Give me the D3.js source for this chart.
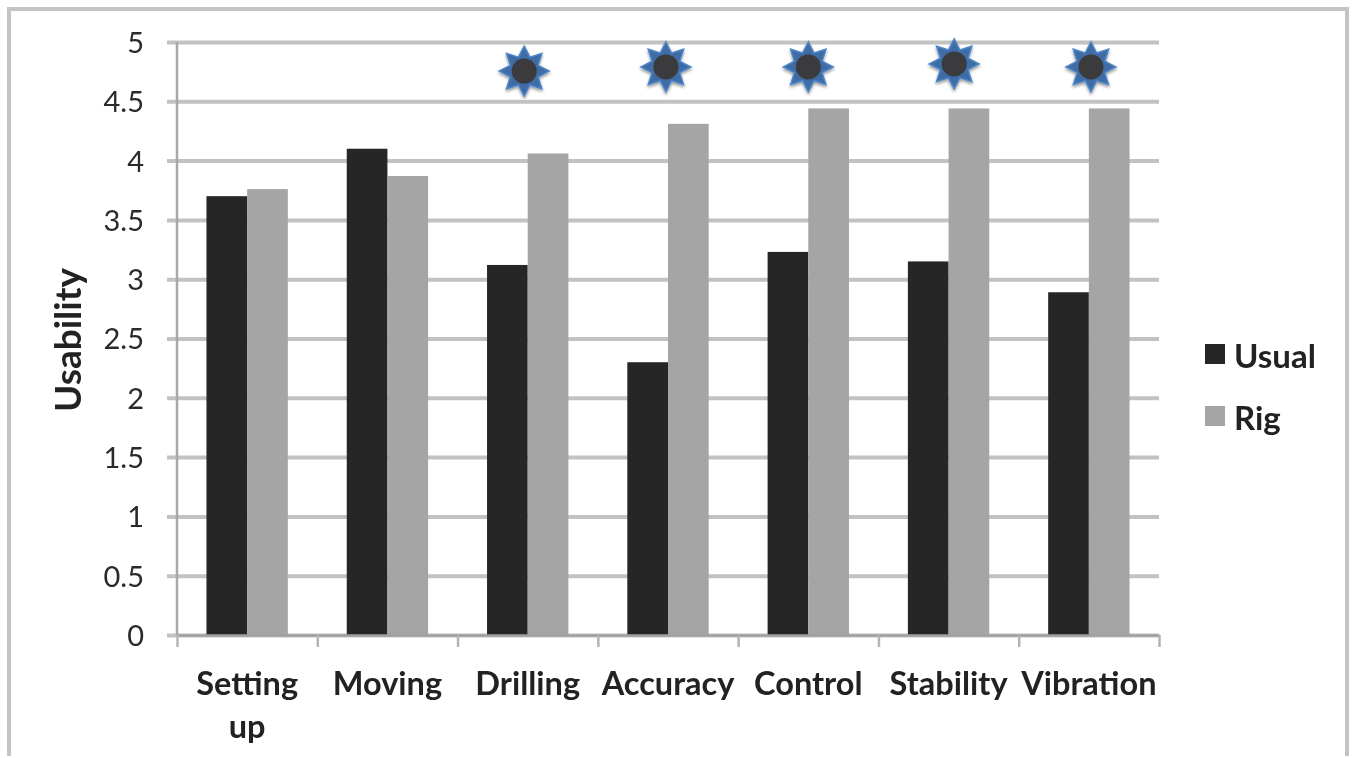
<!DOCTYPE html>
<html>
<head>
<meta charset="utf-8">
<script src="https://cdn.jsdelivr.net/npm/d3@7"></script>
<style>
html, body { margin: 0; padding: 0; background: #fff; }
svg { display: block; }
text { font-family: Lato, "Open Sans", sans-serif; fill: #222; }
</style>
</head>
<body>
<div id="chart"></div>
<script>
var categories = ['Setting up', 'Moving', 'Drilling', 'Accuracy', 'Control', 'Stability', 'Vibration'];
var usual = [3.70, 4.10, 3.12, 2.30, 3.23, 3.15, 2.89];
var rig = [3.76, 3.87, 4.06, 4.31, 4.44, 4.44, 4.44];
var seriesNames = ['Usual', 'Rig'];
var seriesColors = ['#272727', '#a5a5a5'];
var yTicks = [0, 0.5, 1, 1.5, 2, 2.5, 3, 3.5, 4, 4.5, 5];

// significance markers: category, height on the value axis, nudge in category units
var starCats = ['Drilling', 'Accuracy', 'Control', 'Stability', 'Vibration'];
var starValues = [4.755, 4.79, 4.79, 4.815, 4.79];
var starNudge = [-0.025, -0.015, 0, 0.04, 0.015];

var width = 1352, height = 758;
var plot = { left: 177, right: 1159, top: 42, bottom: 635 };

var svg = d3.select('#chart').append('svg')
    .attr('width', width)
    .attr('height', height);

var defs = svg.append('defs');
defs.append('filter').attr('id', 'soft')
    .attr('x', '-5%').attr('y', '-5%').attr('width', '110%').attr('height', '110%')
    .append('feGaussianBlur').attr('stdDeviation', 0.7);
var starShadow = defs.append('filter').attr('id', 'starShadow')
    .attr('x', '-30%').attr('y', '-30%').attr('width', '160%').attr('height', '160%');
starShadow.append('feDropShadow')
    .attr('dx', 0).attr('dy', 2).attr('stdDeviation', 1.6)
    .attr('flood-color', '#000').attr('flood-opacity', 0.4);

var g = svg.append('g').attr('filter', 'url(#soft)');

// outer frame
g.append('path')
    .attr('d', d3.line()([[9, 756], [9, 9], [1347, 9], [1347, 756]]))
    .attr('fill', 'none')
    .attr('stroke', '#c4c4c4')
    .attr('stroke-width', 4);

var x = d3.scaleBand()
    .domain(categories)
    .range([plot.left, plot.right])
    .paddingInner(0.42)
    .paddingOuter(0.21);

var xSeries = d3.scaleBand()
    .domain(seriesNames)
    .range([0, x.bandwidth()]);

var xEdges = d3.scaleLinear()
    .domain([0, categories.length])
    .range([plot.left, plot.right]);

var y = d3.scaleLinear()
    .domain([0, 5])
    .range([plot.bottom, plot.top]);

// value axis with gridlines
var yAxis = g.append('g')
    .attr('transform', 'translate(' + plot.left + ',0)')
    .call(d3.axisLeft(y)
        .tickValues(yTicks)
        .tickFormat(d3.format('~g'))
        .tickSize(0));

yAxis.select('.domain').remove();
yAxis.selectAll('.tick line')
    .attr('x1', -10)
    .attr('x2', plot.right - plot.left)
    .attr('stroke', '#c2c2c2')
    .attr('stroke-width', 4);
yAxis.selectAll('.tick text')
    .attr('x', -33)
    .attr('dy', '0.36em')
    .attr('text-anchor', 'end')
    .style('font-size', '29px')
    .style('font-family', 'Lato, sans-serif')
    .style('fill', '#2a2a2a');

g.append('line')
    .attr('x1', plot.left).attr('x2', plot.left)
    .attr('y1', plot.top).attr('y2', plot.bottom)
    .attr('stroke', '#a8a8a8')
    .attr('stroke-width', 2.5);

// bars
var groups = g.selectAll('.cat')
    .data(categories)
    .enter().append('g')
    .attr('class', 'cat')
    .attr('transform', function(d) { return 'translate(' + x(d) + ',0)'; });

seriesNames.forEach(function(name, s) {
    var vals = s === 0 ? usual : rig;
    groups.append('rect')
        .attr('x', xSeries(name))
        .attr('y', function(d, i) { return y(vals[i]); })
        .attr('width', xSeries.bandwidth())
        .attr('height', function(d, i) { return y(0) - y(vals[i]); })
        .attr('fill', seriesColors[s]);
});

// category axis, ticks sit between the categories
var xAxis = g.append('g')
    .attr('transform', 'translate(0,' + plot.bottom + ')')
    .call(d3.axisBottom(xEdges)
        .tickValues(d3.range(categories.length + 1))
        .tickFormat('')
        .tickSize(12)
        .tickSizeOuter(0));
xAxis.select('.domain').attr('stroke', '#a0a0a0').attr('stroke-width', 2.5);
xAxis.selectAll('.tick line').attr('stroke', '#b4b4b4').attr('stroke-width', 2.5);

// category labels
g.selectAll('.cat-label')
    .data(categories)
    .enter().append('text')
    .attr('class', 'cat-label')
    .attr('x', function(d) { return x(d) + x.bandwidth() / 2; })
    .attr('y', 695)
    .attr('text-anchor', 'middle')
    .style('font-size', '32.5px')
    .style('font-weight', 700)
    .each(function(d) {
        var words = d === 'Setting up' ? d.split(' ') : [d];
        var self = d3.select(this);
        words.forEach(function(w, i) {
            self.append('tspan')
                .attr('x', self.attr('x'))
                .attr('dy', i === 0 ? 0 : 43)
                .text(w);
        });
    });

// y title
g.append('text')
    .attr('transform', 'translate(81,340) rotate(-90)')
    .attr('text-anchor', 'middle')
    .style('font-size', '37px')
    .style('font-weight', 700)
    .text('Usability');

// legend
var legendY = d3.scalePoint().domain(seriesNames).range([356, 418]);
var legend = g.selectAll('.legend')
    .data(seriesNames)
    .enter().append('g')
    .attr('class', 'legend')
    .attr('transform', function(d) { return 'translate(1205,' + legendY(d) + ')'; });
legend.append('rect')
    .attr('x', 0).attr('y', -12)
    .attr('width', 20).attr('height', 20)
    .attr('fill', function(d, i) { return seriesColors[i]; });
legend.append('text')
    .attr('x', 29).attr('y', 12)
    .style('font-size', '33px')
    .style('font-weight', 700)
    .text(function(d) { return d; });

// sun shaped markers
var spikes = d3.range(16).map(function(i) {
    var r = i % 2 === 0 ? 25 : 15;
    var a = i * Math.PI / 8;
    return [Math.sin(a) * r, -Math.cos(a) * r];
});
var stars = svg.append('g').attr('filter', 'url(#soft)').selectAll('.star')
    .data(starCats)
    .enter().append('g')
    .attr('class', 'star')
    .attr('transform', function(d, i) {
        var cx = x(d) + x.bandwidth() / 2 + starNudge[i] * x.step();
        return 'translate(' + cx + ',' + y(starValues[i]) + ')';
    });
stars.append('path')
    .attr('d', d3.line().curve(d3.curveLinearClosed)(spikes))
    .attr('fill', '#3f6ca6')
    .attr('stroke', '#4d86c8')
    .attr('stroke-width', 1.5)
    .attr('filter', 'url(#starShadow)');
stars.append('circle')
    .attr('r', 12.5)
    .attr('fill', '#3a3a3c');
</script>
</body>
</html>
